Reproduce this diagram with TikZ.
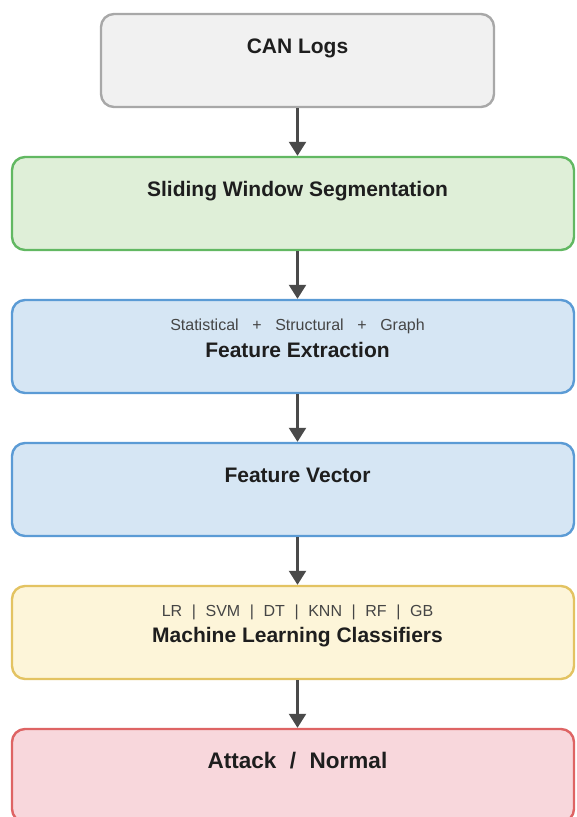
\documentclass[tikz,border=0pt]{standalone}
\usepackage{tikz}
\usepackage{xcolor}
\usepackage{fontspec}
\setmainfont{Liberation Sans}
\usetikzlibrary{arrows.meta}

\definecolor{logsfill}{HTML}{F1F1F1}
\definecolor{logsline}{HTML}{A8A8A8}
\definecolor{segfill}{HTML}{DFEFD8}
\definecolor{segline}{HTML}{62B862}
\definecolor{featfill}{HTML}{D6E6F4}
\definecolor{featline}{HTML}{5B9BD5}
\definecolor{clsfill}{HTML}{FDF5D9}
\definecolor{clsline}{HTML}{E3C362}
\definecolor{outfill}{HTML}{F8D7DC}
\definecolor{outline}{HTML}{DE6464}
\definecolor{titlegray}{HTML}{1E1E1E}
\definecolor{subgray}{HTML}{454545}
\definecolor{arrowgray}{HTML}{4A4A4A}

\begin{document}
\begin{tikzpicture}[x=1pt,y=-1pt,
		stage/.style={draw, line width=2.4pt, rounded corners=13pt, inner sep=0pt, minimum height=93pt},
		wide/.style={stage, minimum width=562pt},
		title/.style={anchor=base, inner sep=0pt, text=titlegray, font=\bfseries\fontsize{21}{25}\selectfont},
		sub/.style={anchor=base, inner sep=0pt, text=subgray, font=\fontsize{16}{19}\selectfont},
		flow/.style={draw=arrowgray, line width=2.4pt, -{Triangle[length=14pt,width=17pt]}}]
				\useasboundingbox (0,0) rectangle (576,817);
				
				\node[stage, minimum width=393pt, fill=logsfill, draw=logsline] (logs) at (297.5,60.5) {};
				\node[wide, fill=segfill, draw=segline] (seg) at (293,203.5) {};
				\node[wide, fill=featfill, draw=featline] (feat) at (293,346.5) {};
				\node[wide, fill=featfill, draw=featline] (vec) at (293,489.5) {};
				\node[wide, fill=clsfill, draw=clsline] (cls) at (293,632.5) {};
				\node[wide, fill=outfill, draw=outline] (out) at (293,775.5) {};
				
				\node[title] (logstext) at (297.5,53) {CAN Logs};
				\node[title] (segtext) at (297.5,196) {Sliding Window Segmentation};
				\node[sub] (featsub) at (297.5,330) {Statistical\hspace{0.85em}+\hspace{0.85em}Structural\hspace{0.85em}+\hspace{0.85em}Graph};
				\node[title] (feattext) at (297.5,357) {Feature Extraction};
				\node[title] (vectext) at (297.5,482) {Feature Vector};
				\node[sub] (clssub) at (297.5,616) {LR\hspace{0.6em}|\hspace{0.6em}SVM\hspace{0.6em}|\hspace{0.6em}DT\hspace{0.6em}|\hspace{0.6em}KNN\hspace{0.6em}|\hspace{0.6em}RF\hspace{0.6em}|\hspace{0.6em}GB};
				\node[title] (clstext) at (297.5,642) {Machine Learning Classifiers};
				\node[title, font=\bfseries\fontsize{22.5}{27}\selectfont] (outtext) at (297.5,768) {Attack\hspace{0.6em}/\hspace{0.6em}Normal};
				
				\draw[flow] (logs.south) -- (logs.south |- seg.north);
				\draw[flow] (logs.south |- seg.south) -- (logs.south |- feat.north);
				\draw[flow] (logs.south |- feat.south) -- (logs.south |- vec.north);
				\draw[flow] (logs.south |- vec.south) -- (logs.south |- cls.north);
				\draw[flow] (logs.south |- cls.south) -- (logs.south |- out.north);
			\end{tikzpicture}
\end{document}
